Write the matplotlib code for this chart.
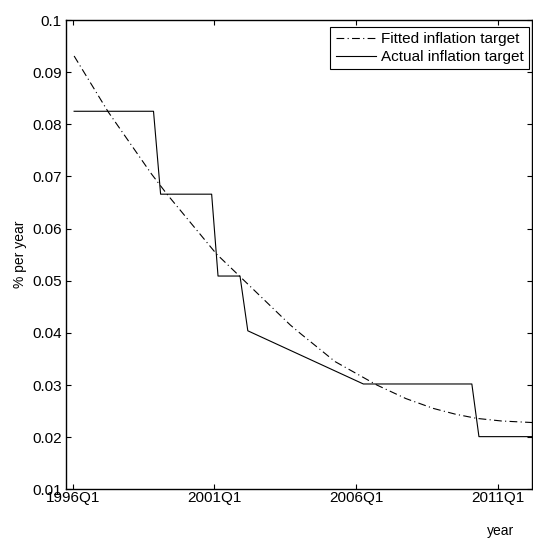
import numpy as np
import matplotlib.pyplot as plt

plt.rcParams['font.family'] = ['Liberation Sans', 'DejaVu Sans']

# quarters counted from 1996Q1 (= 0)
tick_pos = [0, 20, 40, 60]
tick_labels = ['1996Q1', '2001Q1', '2006Q1', '2011Q1']

# actual inflation target (vertices of the line)
actual_q = [0.2, 11.4, 12.4, 19.6, 20.5, 23.6, 24.7, 41.0, 56.3, 57.3, 64.9]
actual_v = [0.0825, 0.0825, 0.0666, 0.0666, 0.0509, 0.0509, 0.0404, 0.0302,
            0.0302, 0.0201, 0.0201]

# fitted inflation target
fitted_q = [0.2, 5.0, 11.1, 13.3, 20.3, 23.6, 30.7, 32.1, 37.0, 42.9, 47.0,
            50.9, 54.0, 57.0, 60.5, 64.9]
fitted_v = [0.0931, 0.0824, 0.0705, 0.0666, 0.0551, 0.0508, 0.0415, 0.0399,
            0.0345, 0.0300, 0.0274, 0.0255, 0.0244, 0.0236, 0.0231, 0.0228]

fig = plt.figure(figsize=(5.33, 5.38), dpi=100)
ax = fig.add_axes([0.1238, 0.0905, 0.8752, 0.8723])

ax.plot(fitted_q, fitted_v, color='black', linestyle=(0, (7, 3, 1, 3)),
        lw=0.8, label='Fitted inflation target')
ax.plot(actual_q, actual_v, color='black', linestyle='-', lw=0.8,
        label='Actual inflation target')

ax.set_xlim(-0.945, 64.85)
ax.set_ylim(0.01, 0.1)
ax.set_xticks(tick_pos)
ax.set_xticklabels(tick_labels)
ax.set_yticks(np.arange(0.01, 0.1001, 0.01))
ax.set_yticklabels(['0.01', '0.02', '0.03', '0.04', '0.05', '0.06', '0.07',
                    '0.08', '0.09', '0.1'])
ax.tick_params(direction='in', length=3.5, width=0.8, top=True, right=True,
               labelsize=11)
ax.tick_params(axis='x', pad=1.5)
ax.tick_params(axis='y', pad=3)
for s in ax.spines.values():
    s.set_linewidth(1.0)

ax.set_ylabel('% per year', fontsize=10, labelpad=4)
ax.set_xlabel('year', fontsize=10)
ax.xaxis.set_label_coords(0.931, -0.089)
ax.xaxis.label.set_va('center')

leg = ax.legend(loc='upper right', bbox_to_anchor=(529.3 / 533, 1 - 26.7 / 538),
                bbox_transform=fig.transFigure, borderaxespad=0,
                fancybox=False, shadow=False, framealpha=1, edgecolor='black',
                fontsize=11, handlelength=2.6, handletextpad=0.37,
                borderpad=0.35, labelspacing=0.25)
leg.get_frame().set_linewidth(0.8)

fig.savefig('out.png', dpi=100)
